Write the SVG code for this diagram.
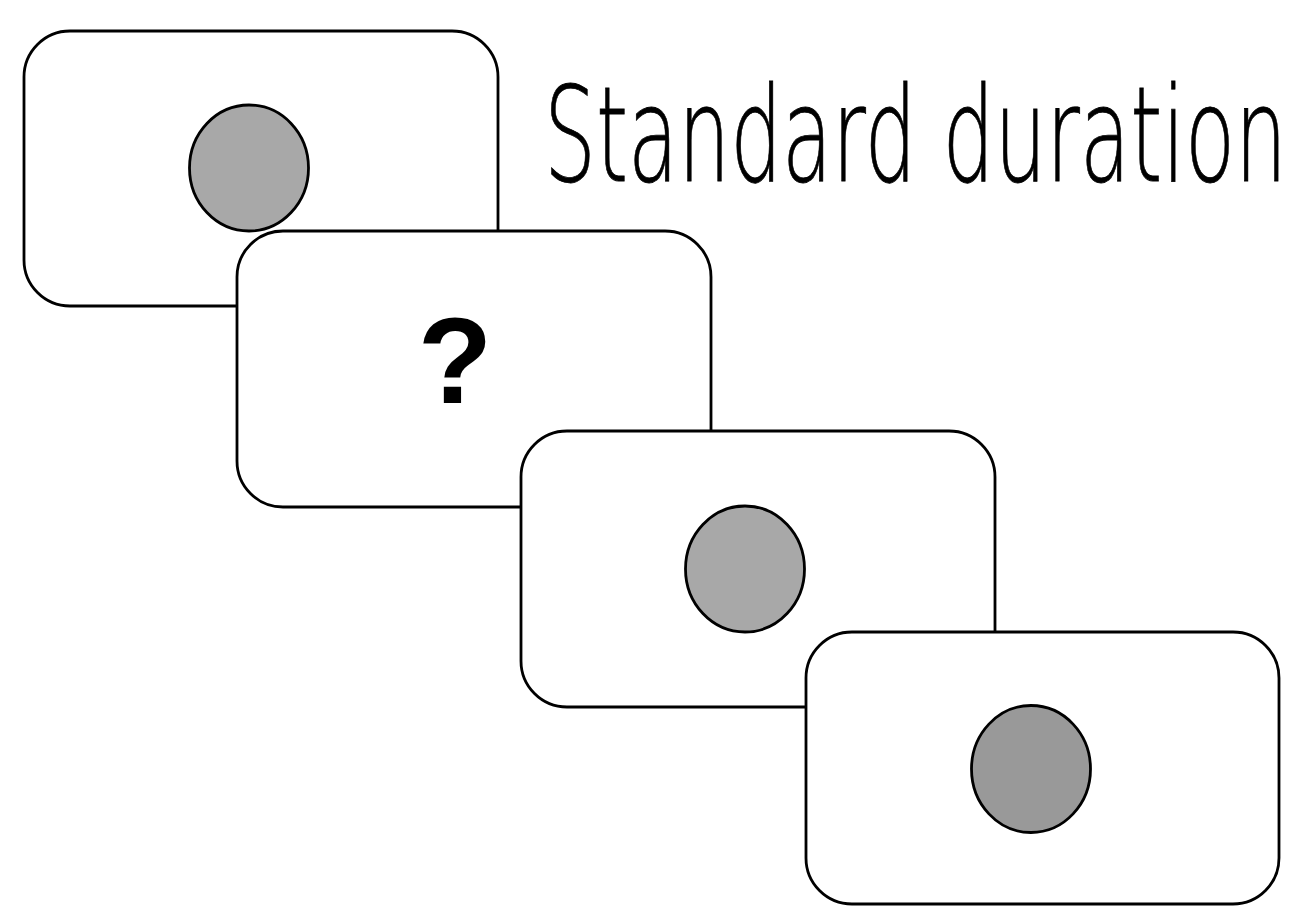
<svg xmlns="http://www.w3.org/2000/svg" width="1302" height="906" viewBox="0 0 1302 906">
<style>
.card{fill:#fff;stroke:#000;stroke-width:2.8}
.dot{stroke:#000;stroke-width:2.8}
.title{font-family:"DejaVu Sans","Liberation Sans",sans-serif;font-weight:200;font-size:81.7px;fill:#000;stroke:#000;stroke-width:0.5;font-variant-ligatures:none}
.q{font-family:"Liberation Sans","Arial",sans-serif;font-weight:bold;font-size:122px;fill:#000}
</style>
<rect width="1302" height="906" fill="#fff"/>
<g id="title" transform="translate(544,181) scale(1,1.61)">
<text class="title" x="0" y="0" textLength="743" lengthAdjust="spacingAndGlyphs">Standard duration</text>
</g>
<g id="card1">
<rect class="card" x="24" y="31" width="474" height="275" rx="46"/>
<ellipse class="dot" cx="249" cy="168" rx="59.5" ry="63" fill="#a8a8a8"/>
</g>
<g id="card2">
<rect class="card" x="237" y="231" width="474" height="276" rx="46"/>
<text class="q" x="455" y="403" text-anchor="middle">?</text>
</g>
<g id="card3">
<rect class="card" x="521" y="431" width="474" height="276" rx="46"/>
<ellipse class="dot" cx="745" cy="569" rx="59.5" ry="63" fill="#a8a8a8"/>
</g>
<g id="card4">
<rect class="card" x="806" y="632" width="473" height="272" rx="46"/>
<ellipse class="dot" cx="1031" cy="769" rx="59.5" ry="63.5" fill="#999"/>
</g>
<g id="connectors"/>
</svg>
